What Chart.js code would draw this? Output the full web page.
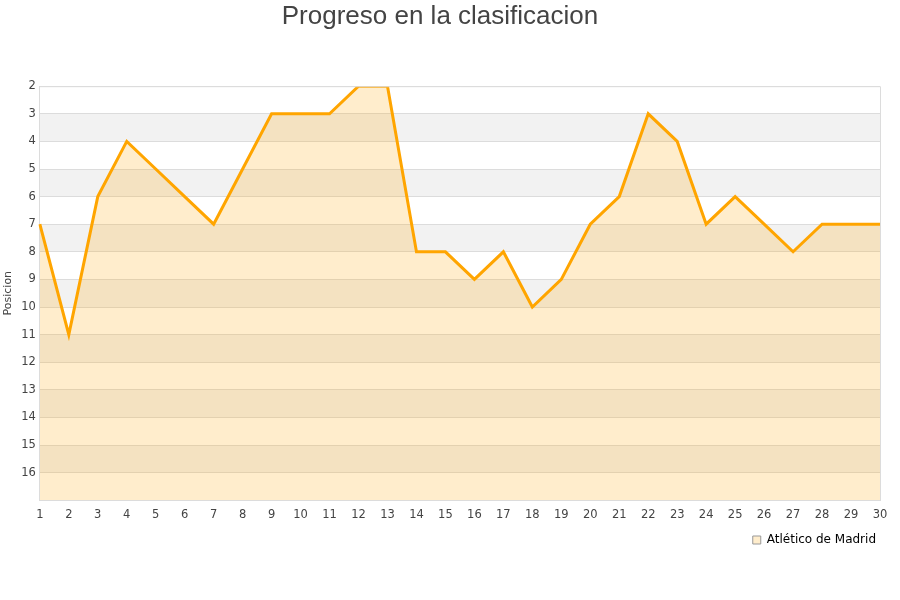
<!DOCTYPE html>
<html>
<head>
<meta charset="utf-8">
<script src="https://cdn.jsdelivr.net/npm/chart.js@4"></script>
<style>
  html, body { margin: 0; padding: 0; background: #fff; }
  #wrap { width: 900px; height: 600px; }
</style>
</head>
<body>
<div id="wrap"><canvas id="chart"></canvas></div>
<script>
// jornadas y posiciones
let jornadas = ['1','2','3','4','5','6','7','8','9','10','11','12','13','14','15','16','17','18','19','20','21','22','23','24','25','26','27','28','29','30']
let posiciones = [7, 11, 6, 4, 5, 6, 7, 5, 3, 3, 3, 2, 2, 8, 8, 9, 8, 10, 9, 7, 6, 3, 4, 7, 6, 7, 8, 7, 7, 7]
let equipo = 'Atlético de Madrid'

// alternating grey bands behind the plot
let bandPlugin = {
    id: 'bands',
    beforeDraw(chart) {
        let ctx = chart.ctx
        let area = chart.chartArea
        let y = chart.scales.y
        ctx.save()
        ctx.fillStyle = '#f2f2f2'
        for (let v = 3; v < 17; v += 2) {
            let top = y.getPixelForValue(v)
            let bottom = y.getPixelForValue(v + 1)
            ctx.fillRect(area.left, top, area.right - area.left, bottom - top)
        }
        ctx.restore()
    }
}

let ctx = document.getElementById('chart').getContext('2d')
let chart = new Chart(ctx, {
    type: 'line',
    data: {
        labels: jornadas,
        datasets: [{
            label: equipo,
            data: posiciones,
            borderColor: '#ffa500',
            backgroundColor: 'rgba(255,165,0,0.2)',
            borderWidth: 3,
            pointRadius: 0,
            tension: 0,
            fill: {value: 17}
        }]
    },
    options: {
        responsive: true,
        maintainAspectRatio: false,
        animation: false,
        layout: { padding: {left: 0, right: 20, top: 0, bottom: 44} },
        plugins: {
            title: {
                display: true,
                text: 'Progreso en la clasificacion',
                color: '#444',
                font: { family: 'Liberation Sans', size: 26, weight: 'normal' },
                padding: { top: 1, bottom: 54 }
            },
            legend: {
                position: 'bottom',
                align: 'end',
                labels: {
                    color: '#111',
                    font: { family: 'DejaVu Sans', size: 12 },
                    boxWidth: 8,
                    boxHeight: 8,
                    padding: 4,
                    generateLabels(chart) {
                        return [{
                            text: equipo,
                            fillStyle: 'rgba(255,165,0,0.2)',
                            strokeStyle: '#999',
                            lineWidth: 1,
                            datasetIndex: 0
                        }]
                    }
                }
            },
            tooltip: { enabled: false }
        },
        scales: {
            x: {
                offset: false,
                grid: { display: false, drawTicks: false },
                border: { color: '#dcdcdc' },
                ticks: {
                    color: '#444',
                    font: { family: 'DejaVu Sans', size: 11.5 },
                    maxRotation: 0,
                    autoSkip: false,
                    padding: 8
                }
            },
            y: {
                reverse: true,
                min: 2,
                max: 17,
                grid: { color: '#dcdcdc', drawTicks: false },
                border: { color: '#dcdcdc' },
                title: {
                    display: true,
                    text: 'Posicion',
                    color: '#444',
                    font: { family: 'DejaVu Sans', size: 11 },
                    padding: 2
                },
                ticks: {
                    stepSize: 1,
                    color: '#444',
                    font: { family: 'DejaVu Sans', size: 11.5 },
                    padding: 4,
                    callback: function(value) {
                        return value === 17 ? '' : value
                    }
                }
            }
        }
    },
    plugins: [bandPlugin, {
        id: 'frame',
        afterDatasetsDraw(chart) {
            let c = chart.ctx
            let a = chart.chartArea
            c.save()
            c.strokeStyle = '#dcdcdc'
            c.lineWidth = 1
            c.beginPath()
            c.moveTo(a.left, a.top + 0.5)
            c.lineTo(a.right + 0.5, a.top + 0.5)
            c.lineTo(a.right + 0.5, a.bottom)
            c.stroke()
            c.restore()
        }
    }]
})
</script>
</body>
</html>
